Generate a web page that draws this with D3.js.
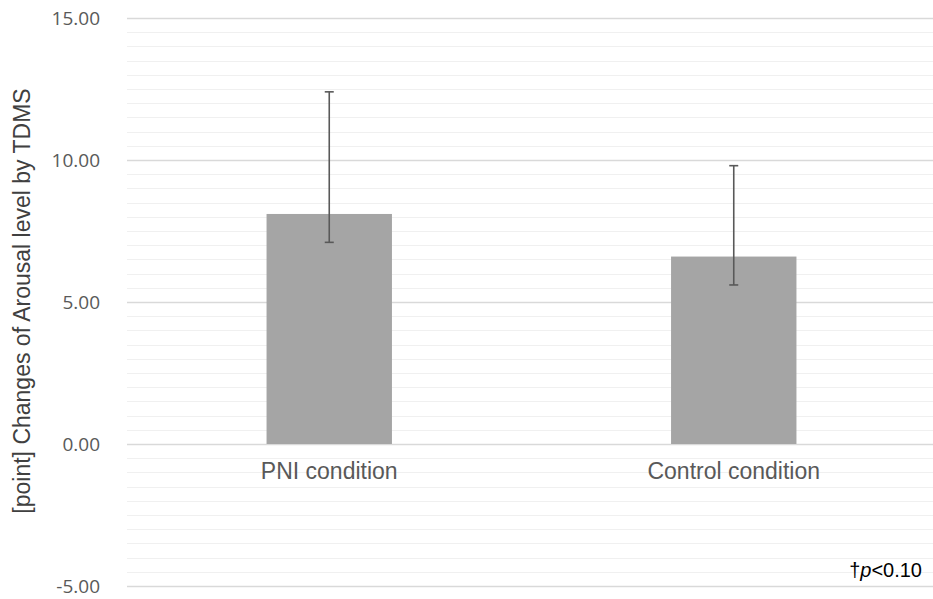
<!DOCTYPE html>
<html>
<head>
<meta charset="utf-8">
<script src="https://cdn.jsdelivr.net/npm/d3@7"></script>
<style>
  body { margin: 0; background: #fff; }
  svg { display: block; }
</style>
</head>
<body>
<svg id="chart" width="933" height="599"></svg>
<script>
// data
var categories = ["PNI condition", "Control condition"];
var means = [8.1, 6.6];
var errUpper = [12.4, 9.8];
var errLower = [7.1, 5.6];
var yTicks = [-5, 0, 5, 10, 15];

var svg = d3.select("#chart");
var plotLeft = 127, plotRight = 933, plotTop = 18, plotBottom = 586;

var x = d3.scaleBand().domain(categories).range([plotLeft, plotRight + 3]).paddingInner(0).paddingOuter(0);
var y = d3.scaleLinear().domain([-5, 15]).range([plotBottom, plotTop]);
var barW = x.bandwidth() * 0.31;

// minor grid every 0.5
var minor = d3.range(-5, 15.01, 0.5).filter(function(v) { return Math.abs(v % 5) > 0.01; });
svg.append("g").selectAll("line")
  .data(minor)
  .enter().append("line")
    .attr("x1", plotLeft).attr("x2", plotRight)
    .attr("y1", function(d) { return Math.round(y(d)) + 0.5; })
    .attr("y2", function(d) { return Math.round(y(d)) + 0.5; })
    .style("stroke", "#f0f0f0").style("stroke-width", 1);

// major grid + labels (plain hyphen for the minus, like the original)
var fmt = d3.format(".2f");
var yAxis = d3.axisLeft(y).tickValues(yTicks)
  .tickFormat(function(d) { return fmt(d).replace("\u2212", "-"); })
  .tickSize(-(plotRight - plotLeft)).tickPadding(27);
var gy = svg.append("g").attr("transform", "translate(" + plotLeft + ",0)").call(yAxis);
gy.select(".domain").remove();
gy.selectAll(".tick line").style("stroke", "#d9d9d9").style("stroke-width", 1.3);
gy.selectAll(".tick text")
  .style("font-family", "'Open Sans', 'Liberation Sans', sans-serif")
  .style("font-size", "19px")
  .style("fill", "#595959");

// bars
svg.append("g").selectAll("rect")
  .data(categories)
  .enter().append("rect")
    .attr("x", function(d) { return x(d) + x.bandwidth() / 2 - barW / 2; })
    .attr("y", function(d, i) { return y(means[i]); })
    .attr("width", barW)
    .attr("height", function(d, i) { return y(0) - y(means[i]); })
    .style("fill", "#a5a5a5");

// error bars
var eb = svg.append("g").selectAll("g")
  .data(categories)
  .enter().append("g")
    .style("stroke", "#595959").style("stroke-width", 1.6);
eb.append("line")
  .attr("x1", function(d) { return x(d) + x.bandwidth() / 2; })
  .attr("x2", function(d) { return x(d) + x.bandwidth() / 2; })
  .attr("y1", function(d, i) { return y(errUpper[i]); })
  .attr("y2", function(d, i) { return y(errLower[i]); });
eb.append("line")
  .attr("x1", function(d) { return x(d) + x.bandwidth() / 2 - 4.5; })
  .attr("x2", function(d) { return x(d) + x.bandwidth() / 2 + 4.5; })
  .attr("y1", function(d, i) { return y(errUpper[i]); })
  .attr("y2", function(d, i) { return y(errUpper[i]); });
eb.append("line")
  .attr("x1", function(d) { return x(d) + x.bandwidth() / 2 - 4.5; })
  .attr("x2", function(d) { return x(d) + x.bandwidth() / 2 + 4.5; })
  .attr("y1", function(d, i) { return y(errLower[i]); })
  .attr("y2", function(d, i) { return y(errLower[i]); });

// category labels
svg.append("g").selectAll("text")
  .data(categories)
  .enter().append("text")
    .attr("x", function(d) { return x(d) + x.bandwidth() / 2; })
    .attr("y", y(0) + 35)
    .attr("text-anchor", "middle")
    .style("font-family", "'Liberation Sans', Arial, sans-serif")
    .style("font-size", "23px")
    .style("fill", "#595959")
    .text(function(d) { return d; });

// y title
svg.append("g")
  .attr("transform", "translate(30,301)")
  .append("text")
    .attr("transform", "rotate(-90)")
    .attr("text-anchor", "middle")
    .style("font-family", "'Liberation Sans', Arial, sans-serif")
    .style("font-size", "23px")
    .style("fill", "#404040")
    .text("[point] Changes of Arousal level by TDMS");

// note
var note = svg.append("text")
  .attr("x", 922)
  .attr("y", 577)
  .attr("text-anchor", "end")
  .style("font-family", "'Liberation Sans', Arial, sans-serif")
  .style("font-size", "20px")
  .style("fill", "#000");
note.append("tspan").text("\u2020");
note.append("tspan").style("font-style", "italic").text("p");
note.append("tspan").text("<0.10");
</script>
</body>
</html>
